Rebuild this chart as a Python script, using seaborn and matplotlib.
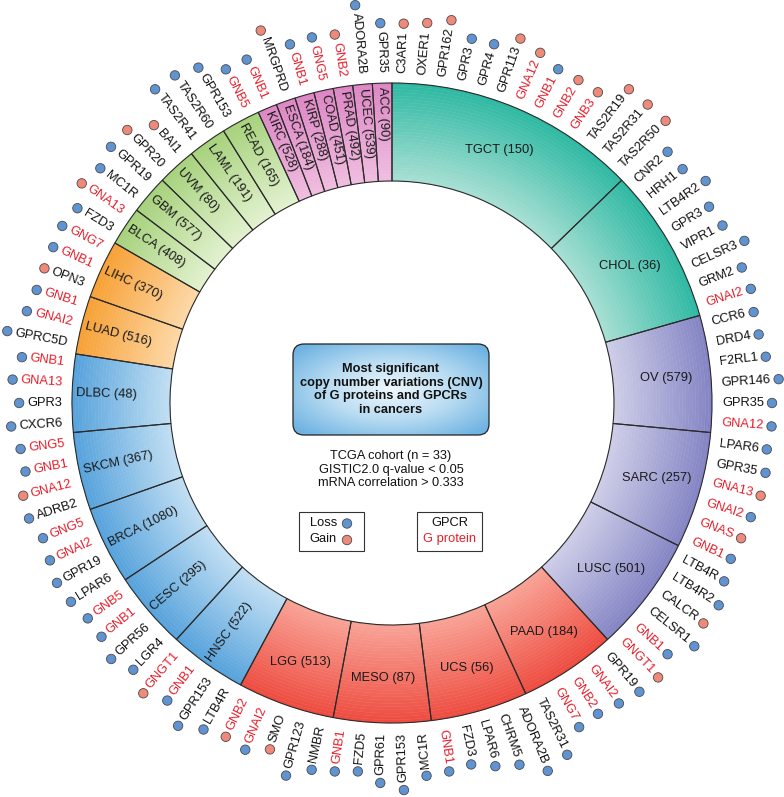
import numpy as np
import pandas as pd
import seaborn as sns
import matplotlib.pyplot as plt
from matplotlib.patches import Wedge, FancyBboxPatch, Rectangle

# cancer types, clockwise from 12 o'clock
cancers = ['TGCT', 'CHOL', 'OV', 'SARC', 'LUSC', 'PAAD', 'UCS', 'MESO', 'LGG',
           'HNSC', 'CESC', 'BRCA', 'SKCM', 'DLBC', 'LUAD', 'LIHC', 'BLCA', 'GBM',
           'UVM', 'LAML', 'READ', 'KIRC', 'ESCA', 'KIRP', 'COAD', 'PRAD', 'UCEC', 'ACC']
cohort_n = [150, 36, 579, 257, 501, 184, 56, 87, 513, 522, 295, 1080, 367, 48,
            516, 370, 408, 577, 80, 191, 165, 528, 184, 288, 451, 492, 539, 90]
groups = ['teal'] * 2 + ['purple'] * 3 + ['red'] * 4 + ['blue'] * 5 + \
         ['orange'] * 2 + ['green'] * 5 + ['pink'] * 7

# genes per cancer (clockwise order) and copy number change: L = loss, G = gain
genes = [
    ['C3AR1', 'OXER1', 'GPR162', 'GPR3', 'GPR4', 'GPR113', 'GNA12', 'GNB1', 'GNB2',
     'GNB3', 'TAS2R19', 'TAS2R31', 'TAS2R50'],
    ['CNR2', 'HRH1', 'LTB4R2', 'GPR3', 'VIPR1', 'CELSR3', 'GRM2', 'GNAI2'],
    ['CCR6', 'DRD4', 'F2RL1', 'GPR146', 'GPR35', 'GNA12'],
    ['LPAR6', 'GPR35', 'GNA13', 'GNAI2', 'GNAS', 'GNB1'],
    ['LTB4R', 'LTB4R2', 'CALCR', 'CELSR1', 'GNB1', 'GNGT1'],
    ['GPR19', 'GNAI2', 'GNB2', 'GNG7', 'TAS2R31'],
    ['ADORA2B', 'CHRM5', 'LPAR6', 'FZD3', 'GNB1'],
    ['MC1R', 'GPR153', 'GPR61', 'FZD5', 'GNB1'],
    ['NMBR', 'GPR123', 'SMO', 'GNAI2', 'GNB2'],
    ['LTB4R', 'GPR153', 'GNB1', 'GNGT1'],
    ['LGR4', 'GPR56', 'GNB1', 'GNB5'],
    ['LPAR6', 'GPR19', 'GNAI2', 'GNG5'],
    ['ADRB2', 'GNA12', 'GNB1', 'GNG5'],
    ['CXCR6', 'GPR3', 'GNA13', 'GNB1'],
    ['GPRC5D', 'GNAI2', 'GNB1'],
    ['OPN3', 'GNB1', 'GNG7'],
    ['FZD3', 'GNA13'],
    ['MC1R', 'GPR19'],
    ['GPR20', 'BAI1'],
    ['TAS2R41', 'TAS2R60'],
    ['GPR153', 'GNB5'],
    ['GNB1'], ['MRGPRD'], ['GNB1'], ['GNG5'], ['GNB2'], ['ADORA2B'], ['GPR35'],
]
changes = ['GGGLLGGLGGGGG', 'LLLLLLLL', 'LLLLLL', 'LLGLGL', 'LLGLLG', 'LLLLL',
           'LLLLL', 'LLLLL', 'LLGLG', 'LLLG', 'LLLL', 'LLLL', 'LGLL', 'LLLL',
           'LLL', 'GLL', 'LG', 'LL', 'GG', 'LL', 'LL', 'L', 'G', 'L', 'L', 'G', 'L', 'L']

group_colors = {  # (inner, outer)
    'teal': ('#a6dfd3', '#2fb9a3'),
    'purple': ('#cdcde8', '#8585c5'),
    'red': ('#f8a295', '#ee4c40'),
    'blue': ('#c0def3', '#57a3dc'),
    'orange': ('#fdd8a6', '#f7a136'),
    'green': ('#e2f1cf', '#a7d27c'),
    'pink': ('#f0bde0', '#dd86c4'),
}
change_colors = {'Loss': '#5f93d2', 'Gain': '#ef8a7b'}
RED = '#e61f2b'

sns.set_theme(style='white')
plt.rcParams['font.family'] = ['Liberation Sans', 'DejaVu Sans']

W, H = 784, 797
fig = plt.figure(figsize=(W / 100, H / 100), dpi=100)
ax = fig.add_axes([0, 0, 1, 1])
ax.set_xlim(0, W)
ax.set_ylim(0, H)
ax.axis('off')

cx, cy = 392, 394
r_in, r_out = 222, 320
r_text = 330
fs = 9.3

total = sum(len(g) for g in genes)
unit = 360.0 / total
renderer = fig.canvas.get_renderer()


def pos(theta, r):
    t = np.radians(theta)
    return cx + r * np.sin(t), cy + r * np.cos(t)


def text_width(s, **kw):
    t = ax.text(0, 0, s, fontsize=fs, **kw)
    w = t.get_window_extent(renderer).width
    t.remove()
    return w


dots = []
k = 0
n_steps = 30
for name, n, grp, glist, chg in zip(cancers, cohort_n, groups, genes, changes):
    t0 = k * unit
    t1 = (k + len(glist)) * unit
    mid = (t0 + t1) / 2
    inner, outer = group_colors[grp]
    shades = sns.blend_palette([inner, outer], n_steps)
    dr = (r_out - r_in) / n_steps
    for i, c in enumerate(shades):
        ax.add_patch(Wedge((cx, cy), r_in + (i + 1) * dr, 90 - t1, 90 - t0, width=dr,
                           facecolor=c, edgecolor=c, lw=0.3, zorder=1))
    ax.add_patch(Wedge((cx, cy), r_out, 90 - t1, 90 - t0, width=r_out - r_in,
                       facecolor='none', edgecolor='#2b2b2b', lw=0.8, zorder=2))

    # segment label
    label = f'{name} ({n})'
    if len(glist) >= 5:
        x, y = pos(mid, (r_in + r_out) / 2 + 4)
        ax.text(x, y, label, fontsize=fs, ha='center', va='center', color='#1a1a1a', zorder=3)
    else:
        x, y = pos(mid, r_out - 4)
        ax.text(x, y, label, fontsize=fs, ha='left', va='center', color='#1a1a1a',
                rotation=(90 - mid) + 180, rotation_mode='anchor', zorder=3)

    # gene labels
    flip = mid > 180
    for j, (g, c) in enumerate(zip(glist, chg)):
        th = (k + j + 0.5) * unit
        x, y = pos(th, r_text)
        col = RED if g.startswith('GN') else '#111111'
        rot = 90 - th + (180 if flip else 0)
        ax.text(x, y, g, fontsize=fs, color=col, rotation=rot, rotation_mode='anchor',
                ha='right' if flip else 'left', va='center', zorder=3)
        w = text_width(g)
        dx, dy = pos(th, r_text + w + 8)
        dots.append({'x': dx, 'y': dy, 'change': 'Loss' if c == 'L' else 'Gain'})
    k += len(glist)

dot_df = pd.DataFrame(dots)
sns.scatterplot(data=dot_df, x='x', y='y', hue='change', palette=change_colors,
                s=46, edgecolor='#4a4a4a', linewidth=0.6, legend=False, ax=ax, zorder=5)

# centre title box with a soft blue gradient
bx0, bx1, by0, by1 = 293, 489, 362, 453
box = FancyBboxPatch((bx0, by0), bx1 - bx0, by1 - by0,
                     boxstyle='round,pad=0,rounding_size=11',
                     facecolor='none', edgecolor='#222222', lw=0.9, zorder=4)
ax.add_patch(box)
gx = np.linspace(-1, 1, 200)
gy = np.linspace(-1, 1, 100)
GX, GY = np.meshgrid(gx, gy)
rad = np.clip(np.sqrt(GX ** 2 + GY ** 2) / 1.3, 0, 1)
cmap = sns.blend_palette(['#eef7fc', '#b9dcf2', '#6fb3e2'], as_cmap=True)
im = ax.imshow(rad, cmap=cmap, extent=[bx0, bx1, by0, by1], origin='lower',
               aspect='auto', zorder=3)
im.set_clip_path(box)

ax.text(391, 407.5, 'Most significant\ncopy number variations (CNV)\nof G proteins and GPCRs\nin cancers',
        fontsize=9.2, fontweight='bold', ha='center', va='center', color='#111111',
        linespacing=1.22, zorder=5)
ax.text(391, 327.5, 'TCGA cohort (n = 33)\nGISTIC2.0 q-value < 0.05\nmRNA correlation > 0.333',
        fontsize=9.2, ha='center', va='center', color='#111111', linespacing=1.22, zorder=5)

# legends
ax.add_patch(Rectangle((299, 246), 65, 39, facecolor='white', edgecolor='#333333', lw=0.8))
ax.add_patch(Rectangle((417, 246), 65, 39, facecolor='white', edgecolor='#333333', lw=0.8))
ax.text(337, 274, 'Loss', fontsize=fs, ha='right', va='center', color='#111111')
ax.text(337, 257.5, 'Gain', fontsize=fs, ha='right', va='center', color='#111111')
ax.scatter([347, 347], [273.5, 257], s=46, c=[change_colors['Loss'], change_colors['Gain']],
           edgecolors='#4a4a4a', linewidths=0.6, zorder=5)
ax.text(450, 274.5, 'GPCR', fontsize=fs, ha='center', va='center', color='#111111')
ax.text(450, 258, 'G protein', fontsize=fs, ha='center', va='center', color=RED)

ax.set_xlim(0, W)
ax.set_ylim(0, H)
ax.axis('off')
fig.savefig('out.png', dpi=100)
